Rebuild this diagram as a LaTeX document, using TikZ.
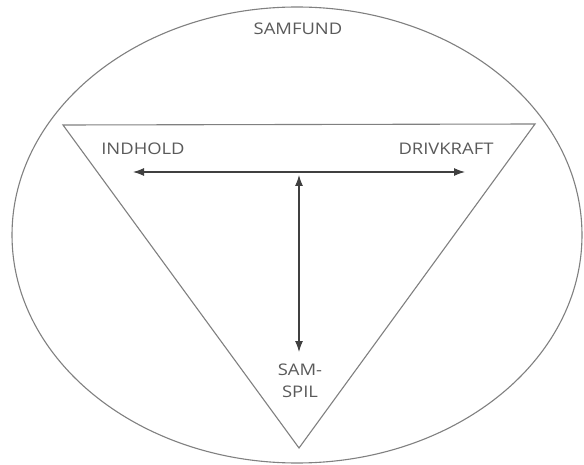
\documentclass[tikz,border=0pt]{standalone}
\usepackage{fontspec}
\setmainfont{Open Sans}
\usetikzlibrary{arrows.meta,shapes.geometric}
\definecolor{linegray}{HTML}{808080}
\definecolor{arrowgray}{HTML}{404040}
\definecolor{textgray}{HTML}{5A5A5A}
\tikzset{
  outline/.style={draw=linegray, line width=1.1pt},
  dblarrow/.style={draw=arrowgray, line width=1.1pt, {Latex[length=11pt,width=8pt]}-{Latex[length=11pt,width=8pt]}},
  label/.style={text=textgray, font=\fontsize{16}{19}\selectfont, inner sep=0pt, align=center}
}
\newcommand{\wide}[1]{\scalebox{1.15}[1]{#1}}
\begin{document}
\begin{tikzpicture}[x=1pt,y=-1pt]
\useasboundingbox (0,0) rectangle (584,465);
\fill[white] (0,0) rectangle (584,465);
% society ellipse
\node[outline, ellipse, minimum width=570pt, minimum height=456pt, inner sep=0pt] (samfund) at (297,235) {};
% triangle
\coordinate (tl) at (63,125);
\coordinate (tr) at (535,124);
\coordinate (bt) at (299,448);
\draw[outline, line join=miter] (tl) -- (tr) -- (bt) -- cycle;
% labels
\node[label] (lsam) at (298,29) {\wide{SAMFUND}};
\node[label] (lind) at (143,149) {\wide{INDHOLD}};
\node[label] (ldri) at (446,149) {\wide{DRIVKRAFT}};
\node[label, font=\fontsize{16}{22}\selectfont] (lspil) at (300,381) {\wide{SAM-}\\\wide{SPIL}};
% arrow end points
\coordinate (aL) at (133,172);
\coordinate (aR) at (465,172);
\coordinate (vT) at (299,175);
\coordinate (vB) at (299,352);
\draw[dblarrow] (aL) -- (aR);
\draw[dblarrow] (vT) -- (vB);
\end{tikzpicture}
\end{document}
